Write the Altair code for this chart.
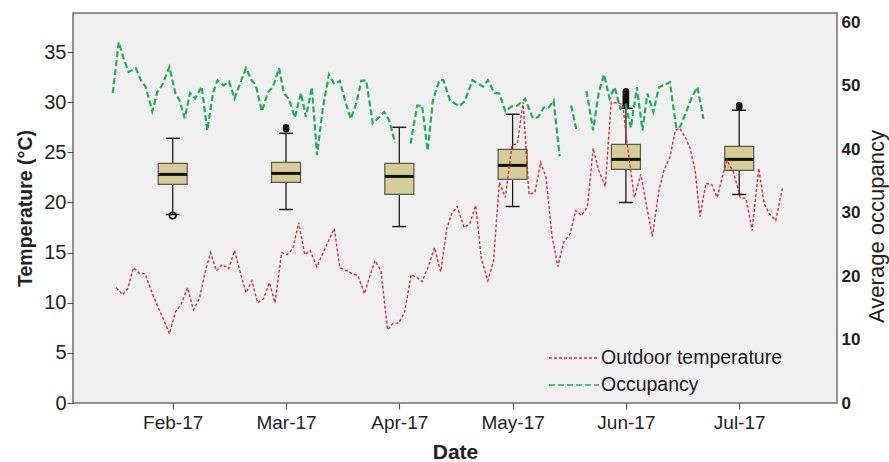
import json
import altair as alt
import pandas as pd

# ---------------- data ----------------
month_pos = [1, 2, 3, 4, 5, 6]
month_labels = ["Feb-17", "Mar-17", "Apr-17", "May-17", "Jun-17", "Jul-17"]
series_names = ["Outdoor temperature", "Occupancy"]

# outdoor temperature (x in month units, Feb-17 = 1)
temp_t = [0.501, 0.558, 0.602, 0.654, 0.710, 0.756, 0.820, 0.869, 0.916, 0.971,
          1.024, 1.072, 1.131, 1.183, 1.235, 1.285, 1.334, 1.386, 1.436, 1.494,
          1.546, 1.597, 1.647, 1.699, 1.749, 1.801, 1.854, 1.903, 1.961, 2.010,
          2.060, 2.112, 2.165, 2.213, 2.272, 2.328, 2.376, 2.426, 2.475, 2.533,
          2.585, 2.635, 2.693, 2.738, 2.786, 2.838, 2.896, 2.940, 2.997, 3.047,
          3.105, 3.158, 3.201, 3.259, 3.311, 3.365, 3.419, 3.463, 3.511, 3.572,
          3.622, 3.674, 3.724, 3.781, 3.831, 3.883, 3.936, 3.994, 4.043, 4.092,
          4.145, 4.197, 4.247, 4.295, 4.348, 4.400, 4.449, 4.508, 4.557, 4.609,
          4.661, 4.711, 4.760, 4.818, 4.870, 4.929, 4.972, 5.011, 5.074, 5.132,
          5.184, 5.233, 5.292, 5.335, 5.388, 5.436, 5.475, 5.524, 5.567, 5.611,
          5.654, 5.706, 5.756, 5.806, 5.858, 5.893, 5.950, 6.009, 6.061, 6.114,
          6.172, 6.220, 6.264, 6.322, 6.381]
temp_c = [11.5, 10.8, 11.4, 13.5, 12.9, 12.9, 10.9, 9.6, 8.4, 6.9,
          9.1, 9.8, 11.5, 9.3, 10.4, 13.0, 15.0, 13.2, 13.8, 13.4,
          15.2, 13.0, 11.0, 12.2, 10.0, 10.4, 12.0, 10.0, 15.0, 14.8,
          15.4, 18.0, 14.8, 15.2, 13.6, 15.0, 16.2, 17.4, 13.5, 13.2,
          12.9, 12.7, 10.9, 12.6, 14.2, 13.2, 7.3, 7.9, 8.0, 9.1,
          12.8, 12.5, 12.1, 13.7, 15.5, 13.1, 17.4, 18.9, 19.6, 17.5,
          17.9, 19.7, 14.4, 12.2, 14.1, 22.0, 20.5, 25.7, 25.9, 30.0,
          20.8, 21.0, 24.0, 22.5, 16.6, 13.6, 16.0, 16.9, 19.2, 18.7,
          19.6, 25.4, 23.2, 21.6, 30.0, 29.9, 29.8, 25.9, 20.5, 22.8,
          19.6, 16.6, 21.2, 23.2, 24.5, 27.2, 27.4, 26.5, 25.4, 23.2,
          18.6, 21.9, 21.8, 20.5, 22.9, 24.2, 23.0, 20.5, 20.4, 17.2,
          23.4, 19.9, 18.9, 18.2, 21.4]

# average occupancy (right axis), with gaps between segments
occ_t = [0.471, 0.524, 0.567, 0.611, 0.675, 0.719, 0.762, 0.820, 0.863, 0.907,
         0.971, 1.024, 1.061, 1.105, 1.154, 1.198, 1.255, 1.305, 1.357, 1.395,
         1.450, 1.497, 1.546, 1.597, 1.647, 1.693, 1.734, 1.787, 1.841, 1.884,
         1.938, 1.982, 2.025, 2.078, 2.132, 2.176, 2.228, 2.274, 2.324, 2.379,
         2.426, 2.475, 2.524, 2.571, 2.620, 2.664, 2.707, 2.766, 2.823, 2.867,
         2.910, 2.963,
         3.099, 3.158, 3.201, 3.250, 3.297, 3.354, 3.389, 3.448, 3.529, 3.578,
         3.646, 3.694, 3.738, 3.781, 3.840, 3.883, 3.936, 3.994, 4.043, 4.110,
         4.179, 4.226, 4.275, 4.319, 4.362, 4.415,
         4.517, 4.565,
         4.652, 4.711, 4.760, 4.807, 4.856, 4.900, 4.952, 4.998, 5.044, 5.097,
         5.146, 5.190, 5.242, 5.292, 5.335, 5.388, 5.445, 5.480, 5.532, 5.582,
         5.631, 5.684]
occ_v = [48.9, 56.9, 54.3, 52.2, 52.8, 50.9, 49.8, 46.0, 49.0, 50.1,
         53.0, 48.8, 47.7, 44.9, 48.9, 48.0, 49.9, 43.0, 49.0, 50.9,
         50.1, 50.7, 48.0, 50.5, 52.8, 51.0, 50.1, 46.0, 49.0, 49.8,
         52.8, 48.8, 48.0, 45.0, 48.9, 45.1, 49.8, 39.1, 46.4, 51.8,
         50.3, 50.8, 47.5, 44.8, 47.2, 50.8, 50.9, 44.1, 45.1, 45.9,
         44.6, 41.0,
         40.9, 46.9, 46.9, 39.8, 47.8, 50.9, 50.9, 47.7, 46.8, 47.6,
         50.9, 50.4, 49.9, 50.9, 48.9, 48.8, 46.0, 46.8, 46.9, 48.0,
         44.9, 45.1, 46.6, 46.6, 47.7, 38.9,
         46.9, 42.9,
         49.2, 43.0, 48.9, 51.8, 48.0, 49.8, 46.4, 47.0, 43.4, 49.8,
         43.0, 48.8, 45.9, 49.8, 50.1, 50.6, 43.3, 43.6, 45.9, 48.2,
         49.8, 44.8]
occ_segment_starts = [0, 52, 78, 80]

# monthly indoor temperature box plots
box_low = [18.8, 19.3, 17.6, 19.6, 20.0, 20.8]
box_q1 = [21.8, 22.0, 20.8, 22.3, 23.3, 23.2]
box_med = [22.8, 22.9, 22.6, 23.7, 24.3, 24.3]
box_q3 = [23.9, 24.0, 23.9, 25.3, 25.8, 25.6]
box_high = [26.4, 26.9, 27.5, 28.8, 29.4, 29.2]

out_month = [1, 2, 2, 5, 5, 5, 5, 5, 5, 5, 5, 6, 6]
out_val = [18.7, 27.3, 27.5, 29.7, 29.9, 30.1, 30.3, 30.5, 30.7, 30.9, 31.1, 29.5, 29.7]
out_filled = [False, True, True, True, True, True, True, True, True, True, True, True, True]

# ---------------- tables ----------------
df_temp = pd.DataFrame({"t": temp_t, "v": temp_c, "series": series_names[0]})
seg_ids = []
for i in range(len(occ_t)):
    seg_ids.append(sum(1 for s in occ_segment_starts if s <= i))
df_occ = pd.DataFrame({"t": occ_t, "v": occ_v, "seg": seg_ids, "series": series_names[1]})
df_box = pd.DataFrame({"month": month_pos, "low": box_low, "q1": box_q1, "med": box_med,
                       "q3": box_q3, "high": box_high})
df_out = pd.DataFrame({"month": out_month, "val": out_val, "filled": out_filled})

# ---------------- scales / axes ----------------
FONT = "Liberation Sans"
x_scale = alt.Scale(domain=[0.164, 6.819], nice=False, zero=False)
label_expr = json.dumps(month_labels) + "[datum.value - 1]"
x_axis = alt.Axis(values=month_pos, labelExpr=label_expr, title="Date", grid=False,
                  domain=False, tickSize=6, tickColor="#555555", tickWidth=1.2,
                  labelFontSize=19, labelPadding=4, labelColor="#222222",
                  titleFontSize=21, titleFontWeight="bold", titlePadding=9,
                  titleColor="#222222")

t_scale = alt.Scale(domain=[0, 38.9], nice=False, zero=False)
t_axis = alt.Axis(values=[0, 5, 10, 15, 20, 25, 30, 35], title="Temperature (°C)",
                  grid=False, domain=False, tickSize=6, tickColor="#555555", tickWidth=1.2,
                  labelFontSize=20, labelPadding=1, labelColor="#222222",
                  titleFontSize=19.5, titleFontWeight="bold", titlePadding=8,
                  titleColor="#222222")

o_scale = alt.Scale(domain=[0, 61.5], nice=False, zero=False)
o_axis = alt.Axis(orient="right", values=[0, 10, 20, 30, 40, 50, 60],
                  title="Average occupancy", grid=False, domain=False, tickSize=0,
                  labelFontSize=17, labelFontWeight="bold", labelPadding=4,
                  labelColor="#222222", titleFontSize=22, titleFontWeight="normal",
                  titleAngle=270, titleX=39, titleY=213, titleAlign="center",
                  titleBaseline="middle", titleColor="#222222")

color_scale = alt.Scale(domain=series_names, range=["#d42a3c", "#1fae58"])
dash_scale = alt.Scale(domain=series_names, range=[[3, 2], [6, 3]])
legend = alt.Legend(title=None, orient="none", legendX=490, legendY=334,
                    symbolType="M-2.5,0H2.5", symbolSize=400, symbolStrokeWidth=1.6,
                    labelFontSize=19.5, labelColor="#1a1a1a", labelOffset=16,
                    labelLimit=400, rowPadding=6, padding=0, labelFont=FONT)


def X(field):
    return alt.X(f"{field}:Q", scale=x_scale, axis=x_axis)


def YT(field):
    return alt.Y(f"{field}:Q", scale=t_scale, axis=t_axis)


# ---------------- marks ----------------
whisker = alt.Chart(df_box).mark_rule(color="#1a1a1a", strokeWidth=1.3).encode(
    x=X("month"), y=YT("low"), y2=alt.Y2("high"))
cap_lo = alt.Chart(df_box).mark_tick(orient="horizontal", size=14, thickness=1.5,
                                     color="#1a1a1a", opacity=1).encode(x=X("month"), y=YT("low"))
cap_hi = alt.Chart(df_box).mark_tick(orient="horizontal", size=14, thickness=1.5,
                                     color="#1a1a1a", opacity=1).encode(x=X("month"), y=YT("high"))
box = alt.Chart(df_box).mark_bar(size=29, fill="#d5cd98", stroke="#5a574c",
                                 strokeWidth=1.2, opacity=1).encode(
    x=X("month"), y=YT("q1"), y2=alt.Y2("q3"))
median = alt.Chart(df_box).mark_tick(orient="horizontal", size=29, thickness=3,
                                     color="#111111", opacity=1).encode(x=X("month"), y=YT("med"))
out_open = alt.Chart(df_out).transform_filter("!datum.filled").mark_point(
    size=42, filled=False, stroke="#111111", strokeWidth=1.6, opacity=1).encode(
    x=X("month"), y=YT("val"))
out_full = alt.Chart(df_out).transform_filter("datum.filled").mark_circle(
    size=44, color="#111111", opacity=1).encode(x=X("month"), y=YT("val"))

red = alt.Chart(df_temp).mark_line(strokeWidth=1.4).encode(
    x=X("t"), y=YT("v"),
    color=alt.Color("series:N", scale=color_scale, legend=legend),
    strokeDash=alt.StrokeDash("series:N", scale=dash_scale, legend=legend))

green = alt.Chart(df_occ).mark_line(strokeWidth=2.2).encode(
    x=X("t"), y=alt.Y("v:Q", scale=o_scale, axis=o_axis),
    detail="seg:N",
    color=alt.Color("series:N", scale=color_scale, legend=legend),
    strokeDash=alt.StrokeDash("series:N", scale=dash_scale, legend=legend))

inner = alt.layer(whisker, cap_lo, cap_hi, box, median, out_open, out_full, red)

chart = alt.layer(inner, green).resolve_scale(y="independent").properties(
    width=764, height=390,
    autosize=alt.AutoSizeParams(type="none"),
    padding={"left": 73, "top": 13, "right": 52, "bottom": 59},
    background="white",
).configure(font=FONT).configure_view(fill="#f0f0f0", stroke="#6e6e6e", strokeWidth=1.5)

chart.save("out.html", embed_options={"renderer": "svg", "actions": False})
